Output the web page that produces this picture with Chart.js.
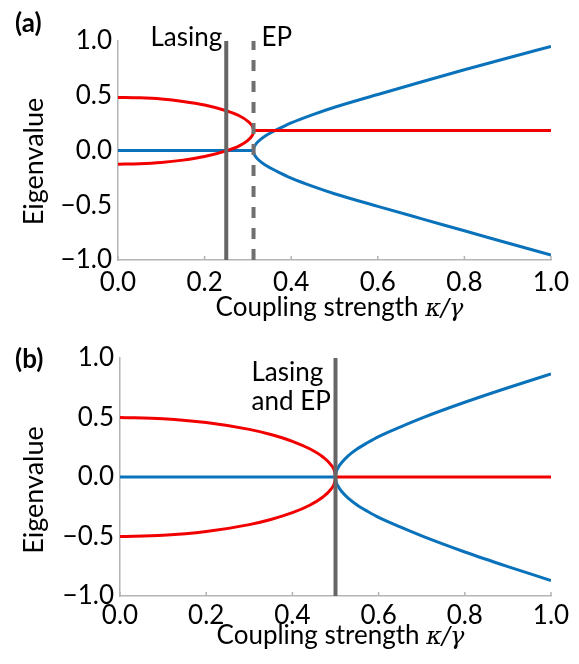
<!DOCTYPE html>
<html>
<head>
<meta charset="utf-8">
<script src="https://cdn.jsdelivr.net/npm/chart.js@4.4.1/dist/chart.umd.min.js"></script>
<style>
  html, body { margin: 0; padding: 0; background: #fff; }
  .panel { position: absolute; left: 0; width: 579px; }
  #panelA { top: 0; height: 330px; }
  #panelB { top: 330px; height: 334px; }
</style>
</head>
<body>
<div class="panel" id="panelA"><canvas id="chartA" width="579" height="330"></canvas></div>
<div class="panel" id="panelB"><canvas id="chartB" width="579" height="334"></canvas></div>
<script>
// shared axes
const xTicks = [0, 0.2, 0.4, 0.6, 0.8, 1.0];
const yTicks = [-1, -0.5, 0, 0.5, 1];

// panel (a): lasing threshold sits below the EP
const aLasing = 0.25;
const aEP = 0.313;
const aLoopX = [0, 0.05, 0.10, 0.15, 0.20, 0.25, 0.28, 0.30, 0.31, 0.312, 0.313];
const aRedUpper = [0.485, 0.481, 0.47, 0.448, 0.415, 0.363, 0.317, 0.267, 0.223, 0.205, 0.183];
const aRedLower = [-0.125, -0.121, -0.11, -0.088, -0.055, -0.003, 0.043, 0.093, 0.137, 0.155, 0.183];
const aRedFlatX = [0.313, 1.0];
const aRedFlat = [0.183, 0.183];
const aBlueFlatX = [0, 0.313];
const aBlueFlat = [0, 0];
const aSplitX = [0.313, 0.314, 0.317, 0.325, 0.34, 0.367, 0.4, 0.45, 0.5, 0.6, 0.7, 0.8, 0.9, 1.0];
const aBlueUpper = [0, 0.025, 0.05, 0.087, 0.133, 0.19, 0.252, 0.328, 0.395, 0.512, 0.626, 0.737, 0.845, 0.95];
const aBlueLower = [0, -0.025, -0.05, -0.087, -0.133, -0.19, -0.252, -0.328, -0.395, -0.51, -0.622, -0.733, -0.845, -0.955];

// panel (b): lasing and EP coincide
const bLasing = 0.5;
const bLoopX = [0, 0.1, 0.2, 0.3, 0.35, 0.4, 0.44, 0.47, 0.49, 0.498, 0.5];
const bRedUpper = [0.50, 0.49, 0.458, 0.40, 0.357, 0.30, 0.237, 0.17, 0.10, 0.045, 0];
const bRedLower = [-0.50, -0.49, -0.458, -0.40, -0.357, -0.30, -0.237, -0.17, -0.10, -0.045, 0];
const bRedFlatX = [0.5, 1.0];
const bRedFlat = [0, 0];
const bBlueFlatX = [0, 0.5];
const bBlueFlat = [0, 0];
const bSplitX = [0.5, 0.501, 0.505, 0.515, 0.53, 0.55, 0.575, 0.6, 0.65, 0.7, 0.8, 0.9, 1.0];
const bBlueUpper = [0, 0.032, 0.071, 0.124, 0.18, 0.235, 0.29, 0.34, 0.42, 0.495, 0.628, 0.75, 0.866];
const bBlueLower = [0, -0.032, -0.071, -0.124, -0.18, -0.235, -0.29, -0.34, -0.42, -0.495, -0.63, -0.753, -0.87];

const RED = '#f20000';
const BLUE = '#0a72ba';
const FONT = 'Lato';
const FS = 26;

const pts = (xs, ys) => xs.map((x, i) => ({ x: x, y: ys[i] }));
const fmt = v => (v < 0 ? '\u2212' : '') + Math.abs(v).toFixed(1);

function curve(xs, ys, color) {
    return {
        data: pts(xs, ys),
        borderColor: color,
        borderWidth: 3,
        pointRadius: 0,
        cubicInterpolationMode: 'monotone',
        order: 2
    };
}

function marker(x, dashed) {
    return {
        data: [{ x: x, y: -1 }, { x: x, y: 1 }],
        borderColor: dashed ? '#707070' : '#666666',
        borderWidth: 4,
        borderDash: dashed ? [11, 10] : [],
        pointRadius: 0,
        order: 1
    };
}

// titles, panel letter, inward ticks and text notes
const decorations = {
    id: 'decorations',
    afterDraw(chart, args, o) {
        const ctx = chart.ctx;
        const area = chart.chartArea;
        const xs = chart.scales.x;
        ctx.save();

        // inward ticks on the x axis
        ctx.strokeStyle = '#b4b4b4';
        ctx.lineWidth = 1.5;
        xTicks.forEach(v => {
            const px = xs.getPixelForValue(v);
            ctx.beginPath();
            ctx.moveTo(px, area.bottom);
            ctx.lineTo(px, area.bottom - 4);
            ctx.stroke();
        });

        ctx.fillStyle = '#000';
        ctx.textBaseline = 'alphabetic';

        // panel letter
        ctx.font = 'bold 26px ' + FONT;
        ctx.textAlign = 'left';
        ctx.fillText(o.letter, 15, o.letterY);

        // x title with italic ratio
        const plain = 'Coupling strength ';
        const ital = '\u03BA/\u03B3';
        ctx.font = FS + 'px ' + FONT;
        const w1 = ctx.measureText(plain).width;
        ctx.font = 'italic 24px "DejaVu Serif"';
        const w2 = ctx.measureText(ital).width;
        const cx = (area.left + area.right) / 2 + 5;
        const x0 = cx - (w1 + w2) / 2;
        ctx.font = FS + 'px ' + FONT;
        ctx.fillText(plain, x0, area.bottom + o.xTitleDy);
        ctx.font = 'italic 24px "DejaVu Serif"';
        ctx.fillText(ital, x0 + w1, area.bottom + o.xTitleDy);

        // y title
        ctx.save();
        ctx.translate(34, (area.top + area.bottom) / 2 + o.yTitleDy);
        ctx.rotate(-Math.PI / 2);
        ctx.font = (FS + 1) + 'px ' + FONT;
        ctx.textAlign = 'center';
        ctx.textBaseline = 'middle';
        ctx.fillText('Eigenvalue', 0, 0);
        ctx.restore();

        // notes next to the marker lines
        ctx.font = FS + 'px ' + FONT;
        o.notes.forEach(n => {
            ctx.textAlign = n.align;
            ctx.fillText(n.text, xs.getPixelForValue(n.at) + n.dx, n.y);
        });
        ctx.restore();
    }
};

function makeChart(id, datasets, pad, xHeight, tickPad, deco) {
    return new Chart(document.getElementById(id), {
        type: 'line',
        data: { datasets: datasets },
        plugins: [decorations],
        options: {
            responsive: false,
            animation: false,
            devicePixelRatio: 1,
            layout: { padding: pad },
            plugins: {
                legend: { display: false },
                tooltip: { enabled: false },
                decorations: deco
            },
            scales: {
                x: {
                    type: 'linear',
                    min: 0,
                    max: 1,
                    afterBuildTicks: sc => { sc.ticks = xTicks.map(v => ({ value: v })); },
                    afterFit: sc => { sc.height = xHeight; },
                    ticks: {
                        callback: fmt,
                        color: '#000',
                        font: { family: FONT, size: FS },
                        padding: tickPad,
                        maxRotation: 0,
                        autoSkip: false
                    },
                    grid: { drawOnChartArea: false, drawTicks: false },
                    border: { color: '#b4b4b4', width: 1.5 }
                },
                y: {
                    min: -1,
                    max: 1,
                    afterBuildTicks: sc => { sc.ticks = yTicks.map(v => ({ value: v })); },
                    afterFit: sc => { sc.width = pad.yWidth; },
                    ticks: {
                        callback: fmt,
                        color: '#000',
                        font: { family: FONT, size: FS },
                        padding: 6,
                        autoSkip: false
                    },
                    grid: { drawOnChartArea: false, drawTicks: false },
                    border: { color: '#b4b4b4', width: 1.5 }
                }
            }
        }
    });
}

makeChart('chartA', [
    curve(aLoopX, aRedUpper, RED),
    curve(aLoopX, aRedLower, RED),
    curve(aRedFlatX, aRedFlat, RED),
    curve(aBlueFlatX, aBlueFlat, BLUE),
    curve(aSplitX, aBlueUpper, BLUE),
    curve(aSplitX, aBlueLower, BLUE),
    marker(aLasing, false),
    marker(aEP, true)
], { top: 41, right: 28, left: 0, bottom: 0, yWidth: 118 }, 70, 7, {
    letter: '(a)', letterY: 32, xTitleDy: 56, yTitleDy: 11,
    notes: [
        { text: 'Lasing', at: aLasing, dx: -4, y: 46, align: 'right' },
        { text: 'EP', at: aEP, dx: 8, y: 46, align: 'left' }
    ]
});

makeChart('chartB', [
    curve(bLoopX, bRedUpper, RED),
    curve(bLoopX, bRedLower, RED),
    curve(bRedFlatX, bRedFlat, RED),
    curve(bBlueFlatX, bBlueFlat, BLUE),
    curve(bSplitX, bBlueUpper, BLUE),
    curve(bSplitX, bBlueLower, BLUE),
    marker(bLasing, false)
], { top: 28, right: 28, left: 0, bottom: 0, yWidth: 120 }, 68, 4, {
    letter: '(b)', letterY: 38, xTitleDy: 48, yTitleDy: 13,
    notes: [
        { text: 'Lasing', at: bLasing, dx: -84, y: 51, align: 'left' },
        { text: 'and EP', at: bLasing, dx: -84, y: 80, align: 'left' }
    ]
});
</script>
</body>
</html>
